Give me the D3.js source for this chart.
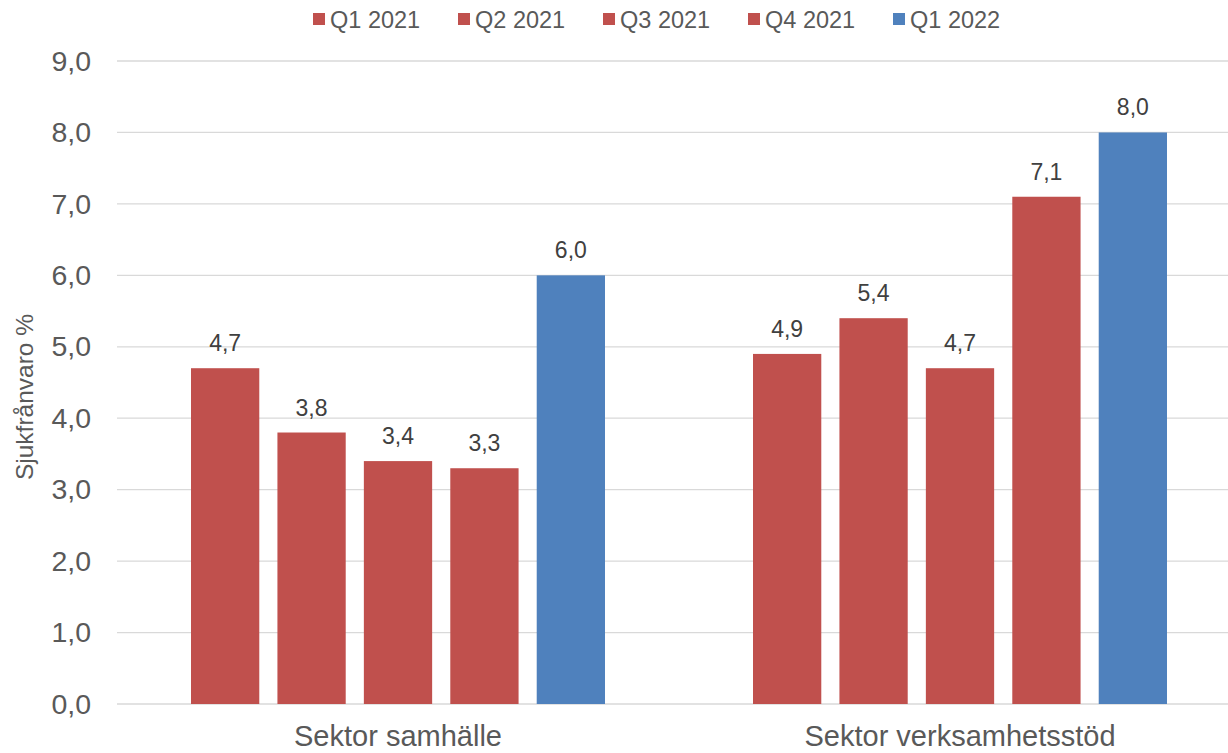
<!DOCTYPE html>
<html>
<head>
<meta charset="utf-8">
<script src="https://cdn.jsdelivr.net/npm/d3@7"></script>
<style>
  body { margin: 0; background: #fff; }
  svg { font-family: Arial, "Liberation Sans", sans-serif; }
</style>
</head>
<body>
<svg width="1228" height="753"></svg>
<script>
const categories = ['Sektor samhälle', 'Sektor verksamhetsstöd'];
const seriesNames = ['Q1 2021', 'Q2 2021', 'Q3 2021', 'Q4 2021', 'Q1 2022'];
const seriesColors = ['#C0504D', '#C0504D', '#C0504D', '#C0504D', '#4F81BD'];
const q1_2021 = [4.7, 4.9];
const q2_2021 = [3.8, 5.4];
const q3_2021 = [3.4, 4.7];
const q4_2021 = [3.3, 7.1];
const q1_2022 = [6.0, 8.0];
const yTicks = [0, 1, 2, 3, 4, 5, 6, 7, 8, 9];

const seriesValues = [q1_2021, q2_2021, q3_2021, q4_2021, q1_2022];

const width = 1228;
const height = 753;
const plotLeft = 117;
const plotRight = 1241;
const plotTop = 61;
const plotBottom = 704;

const fmt = (v) => d3.format('.1f')(v).replace('.', ',');

let svg = d3.select('svg');

let xScale = d3.scaleBand()
    .domain(categories)
    .range([plotLeft, plotRight]);

let innerScale = d3.scaleBand()
    .domain(seriesNames)
    .range([74, xScale.bandwidth() - 74])
    .paddingInner(0.21)
    .paddingOuter(0);

let yScale = d3.scaleLinear()
    .domain([0, 9])
    .range([plotBottom, plotTop]);

// gridlines
svg.append('g')
    .selectAll('line')
    .data(yTicks)
    .enter()
    .append('line')
    .attr('x1', plotLeft)
    .attr('x2', width)
    .attr('y1', d => yScale(d))
    .attr('y2', d => yScale(d))
    .attr('stroke', '#D9D9D9')
    .attr('stroke-width', 1.3);

// y axis labels
let yAxis = d3.axisLeft(yScale)
    .tickValues(yTicks)
    .tickFormat(fmt)
    .tickSize(0)
    .tickPadding(26);

svg.append('g')
    .attr('id', 'y-axis')
    .attr('transform', 'translate(' + plotLeft + ', 0)')
    .call(yAxis)
    .call(g => g.select('.domain').remove())
    .selectAll('text')
    .attr('font-size', 28.5)
    .attr('fill', '#595959')
    .attr('font-family', 'Arial, "Liberation Sans", sans-serif');

// x axis labels
let xAxis = d3.axisBottom(xScale).tickSize(0).tickPadding(21);
svg.append('g')
    .attr('id', 'x-axis')
    .attr('transform', 'translate(0, ' + plotBottom + ')')
    .call(xAxis)
    .call(g => g.select('.domain').remove())
    .selectAll('text')
    .attr('font-size', 29)
    .attr('fill', '#595959')
    .attr('font-family', 'Arial, "Liberation Sans", sans-serif');

// bars
let groups = svg.append('g')
    .selectAll('g')
    .data(categories)
    .enter()
    .append('g')
    .attr('transform', d => 'translate(' + xScale(d) + ',0)');

groups.each(function (cat, ci) {
    let g = d3.select(this);
    let items = seriesNames.map((s, si) => ({ s: s, v: seriesValues[si][ci], c: seriesColors[si] }));
    g.selectAll('rect')
        .data(items)
        .enter()
        .append('rect')
        .attr('x', d => innerScale(d.s))
        .attr('width', innerScale.bandwidth())
        .attr('y', d => yScale(d.v))
        .attr('height', d => plotBottom - yScale(d.v))
        .attr('fill', d => d.c);
    g.selectAll('text')
        .data(items)
        .enter()
        .append('text')
        .attr('x', d => innerScale(d.s) + innerScale.bandwidth() / 2)
        .attr('y', d => yScale(d.v) - 17)
        .attr('text-anchor', 'middle')
        .attr('font-size', 23)
        .attr('fill', '#404040')
        .text(d => fmt(d.v));
});

// axis title
svg.append('text')
    .attr('transform', 'translate(33, 397) rotate(-90)')
    .attr('text-anchor', 'middle')
    .attr('font-size', 24.5)
    .attr('fill', '#595959')
    .text('Sjukfrånvaro %');

// legend
let legend = svg.append('g')
    .selectAll('g')
    .data(seriesNames)
    .enter()
    .append('g')
    .attr('transform', (d, i) => 'translate(' + (313 + i * 145) + ', 19)');

legend.append('rect')
    .attr('x', 0)
    .attr('y', -6)
    .attr('width', 12)
    .attr('height', 12)
    .attr('fill', (d, i) => seriesColors[i]);

legend.append('text')
    .attr('x', 17)
    .attr('y', 8.5)
    .attr('font-size', 23.5)
    .attr('fill', '#595959')
    .text(d => d);
</script>
</body>
</html>
